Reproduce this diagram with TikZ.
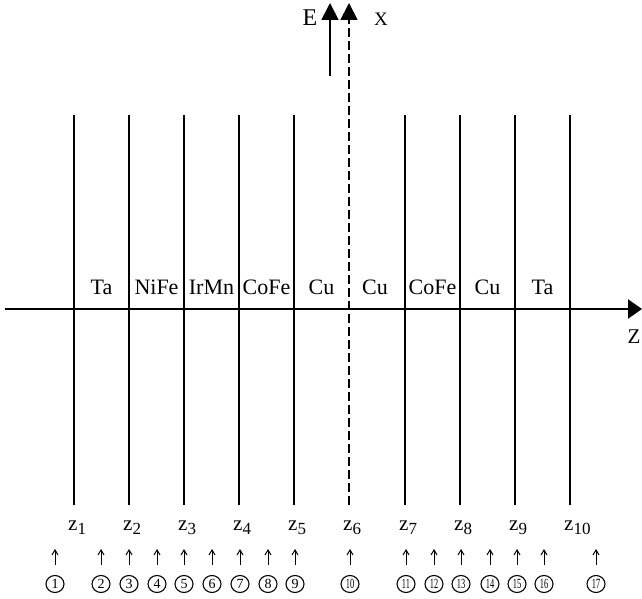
\documentclass[tikz,border=0pt]{standalone}
\usepackage{fontspec}
\setmainfont{Liberation Serif}
\usetikzlibrary{arrows.meta,shapes.geometric}
\begin{document}
\begin{tikzpicture}[x=1pt,y=1pt,
  layerline/.style={line width=1.8pt},
  midline/.style={line width=1.8pt, dash pattern=on 9pt off 4pt},
  bigarrow/.style={line width=1.8pt, -{Triangle[length=17pt,width=17pt]}},
  axisline/.style={line width=2.2pt, -{Triangle[length=14pt,width=19pt]}},
  layerlbl/.style={font=\fontsize{22}{22}\selectfont, anchor=base, inner sep=0pt},
  zlbl/.style={font=\fontsize{21}{21}\selectfont, anchor=base west, inner sep=0pt},
  axislbl/.style={font=\fontsize{21}{21}\selectfont, inner sep=0pt},
  smallarrow/.style={line width=1pt, -{Straight Barb[length=5pt,width=6pt]}},
  circnum/.style={draw, ellipse, line width=1.1pt, inner sep=0pt, minimum width=18pt, minimum height=17pt, font=\fontsize{14}{14}\selectfont}
]
\useasboundingbox (0,0) rectangle (642,599);
% horizontal axis
\coordinate (ax0) at (5,290);
\coordinate (ax1) at (642,290);
\draw[axisline] (ax0) -- (ax1);
\node[axislbl] (zaxis) at (634,262) {Z};
% vertical interface lines
\foreach \i/\xx in {1/74,2/129,3/184,4/239,5/294,7/405,8/460,9/515,10/570}{
  \coordinate (t\i) at (\xx,484);
  \coordinate (b\i) at (\xx,94);
  \draw[layerline] (b\i) -- (t\i);
}
% dashed x axis (z6)
\coordinate (b6) at (349,94);
\coordinate (t6) at (349,596);
\draw[midline, -{Triangle[length=17pt,width=17pt]}] (b6) -- (t6);
\node[axislbl, font=\fontsize{19}{19}\selectfont] (xlbl) at (381,580) {X};
% E arrow
\coordinate (e0) at (330,523);
\coordinate (e1) at (330,596);
\draw[bigarrow] (e0) -- (e1);
\node[axislbl, font=\fontsize{24}{24}\selectfont] (elbl) at (310,581) {E};
% layer labels
\foreach \n/\xx/\txt in {l1/101.5/Ta, l2/156.5/NiFe, l3/211.5/IrMn, l4/266.5/CoFe, l5/321.5/Cu, l6/375/Cu, l7/432.5/CoFe, l8/487.5/Cu, l9/542.5/Ta}{
  \node[layerlbl] (\n) at (\xx,304) {\txt};
}
% z labels
\foreach \i/\xx in {1/74,2/129,3/184,4/239,5/294,6/349,7/405,8/460,9/515,10/570}{
  \node[zlbl] (z\i) at (\xx-6,68) {z\raisebox{-4pt}{\fontsize{17}{17}\selectfont\i}};
}
% position markers
\foreach \k/\xx in {1/55,2/101,3/129,4/157,5/184,6/212,7/240,8/268,9/295}{
  \coordinate (a\k) at (\xx,34);
  \coordinate (ae\k) at (\xx,50);
  \draw[smallarrow] (a\k) -- (ae\k);
  \node[circnum] (c\k) at (\xx,15) {\k};
}
\foreach \k/\xx in {10/350,11/406,12/434,13/461,14/490,15/517,16/544,17/596}{
  \coordinate (a\k) at (\xx,34);
  \coordinate (ae\k) at (\xx,50);
  \draw[smallarrow] (a\k) -- (ae\k);
  \node[circnum] (c\k) at (\xx,15) {\scalebox{0.6}[1]{\k}};
}
\end{tikzpicture}
\end{document}
